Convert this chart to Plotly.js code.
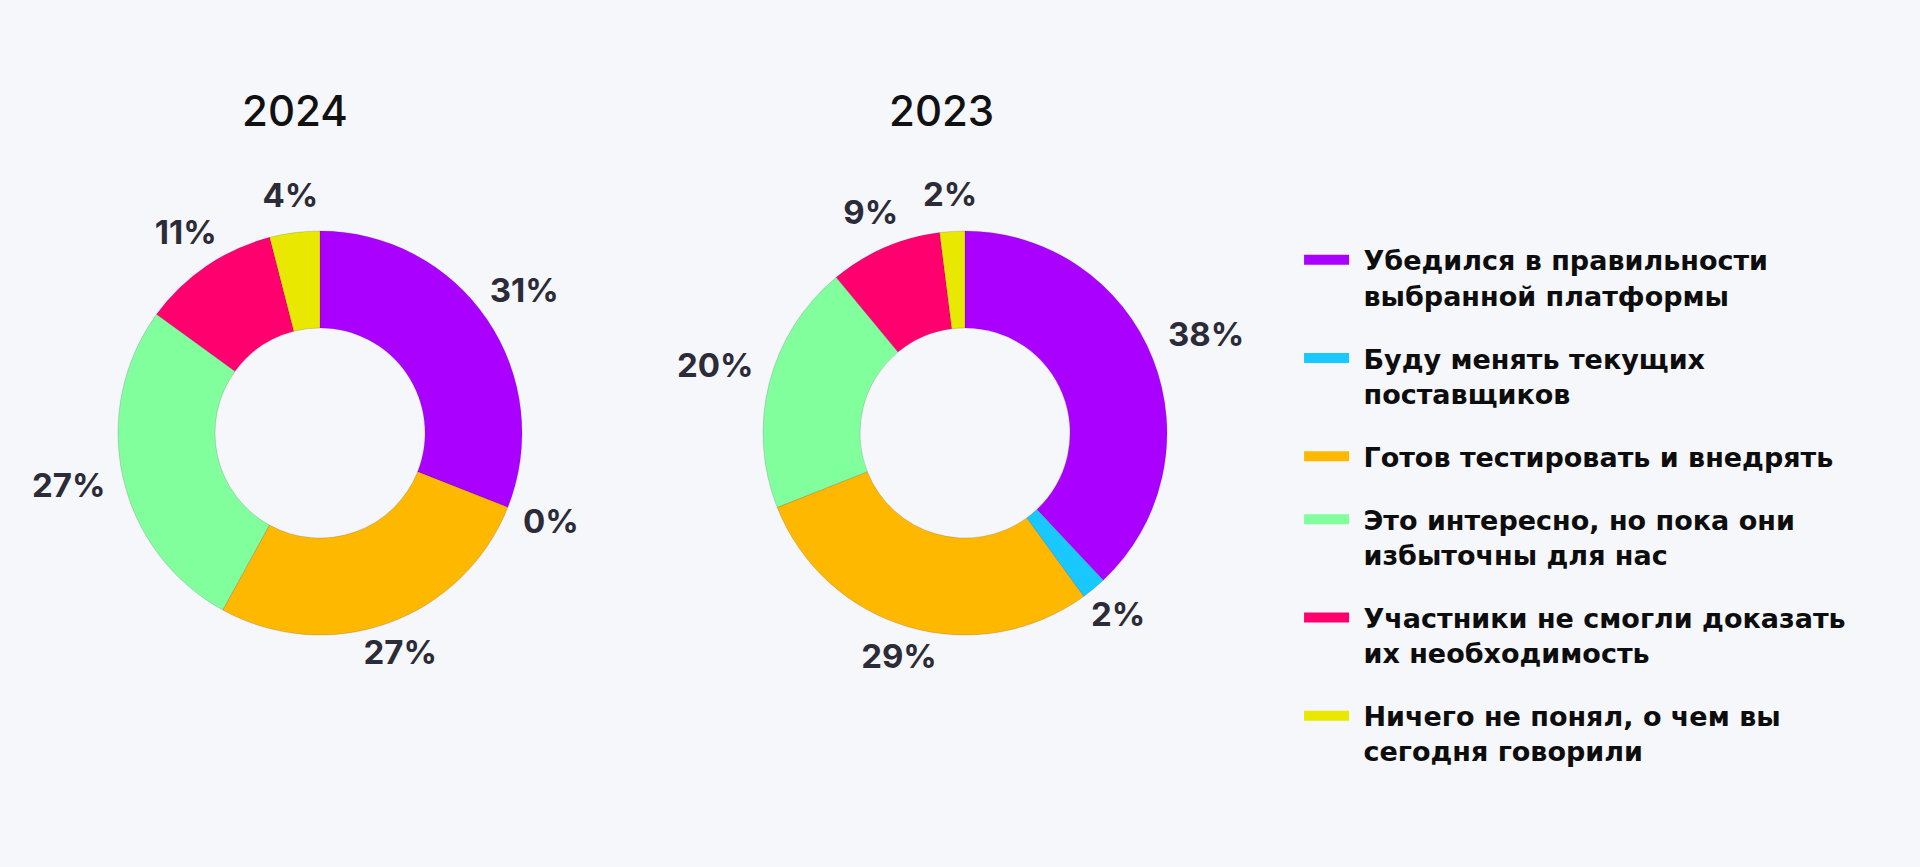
<!DOCTYPE html>
<html>
<head>
<meta charset="utf-8">
<script src="https://cdn.plot.ly/plotly-3.0.1.min.js"></script>
<style>
  html, body { margin: 0; padding: 0; background: #f6f7fb; }
  #chart { width: 1920px; height: 867px; }
</style>
</head>
<body>
<div id="chart"></div>
<script>
// ---- data ----
const categories = [
  'Убедился в правильности<br>выбранной платформы',
  'Буду менять текущих<br>поставщиков',
  'Готов тестировать и внедрять',
  'Это интересно, но пока они<br>избыточны для нас',
  'Участники не смогли доказать<br>их необходимость',
  'Ничего не понял, о чем вы<br>сегодня говорили'
];
const years = ['2024', '2023'];
const values2024 = [31, 0, 27, 27, 11, 4];
const values2023 = [38, 2, 29, 20, 9, 2];
const colors = ['#AA00FF', '#19C8FF', '#FFB800', '#80FF9C', '#FF006E', '#E8E800'];

const FONT = 'Inter, "Noto Sans", "DejaVu Sans", sans-serif';
const LEGEND_FONT = '"DejaVu Sans", Inter, sans-serif';
const labelColor = '#2c2b38';
const LABEL_SIZE = 33;

// geometry (pixels) – one ring per year
const W = 1920, H = 867;
const RING_R = 202;          // outer radius of the donut
const LABEL_GAP = 20;        // gap between ring and label edge
const centers = [[320, 433], [965, 433]];
const POLAR_HALF = 300;      // half-size of the label overlay

function pieDomain(c) {
  return {
    x: [(c[0] - RING_R) / W, (c[0] + RING_R) / W],
    y: [1 - (c[1] + RING_R) / H, 1 - (c[1] - RING_R) / H]
  };
}
function polarDomain(c) {
  return {
    x: [(c[0] - POLAR_HALF) / W, (c[0] + POLAR_HALF) / W],
    y: [1 - (c[1] + POLAR_HALF) / H, 1 - (c[1] - POLAR_HALF) / H]
  };
}

function pieTrace(vals, c) {
  return {
    type: 'pie',
    values: vals,
    labels: categories,
    sort: false,
    direction: 'clockwise',
    rotation: 0,
    hole: 0.52,
    domain: pieDomain(c),
    marker: { colors: colors, line: { color: 'rgba(40,0,60,0.25)', width: 0.6 } },
    textinfo: 'none',
    showlegend: false,
    hoverinfo: 'label+percent'
  };
}

// label placement: anchored at end of each slice's mid-angle ray
function textHalfWidth(s) {
  let w = 0;
  for (const ch of s) w += (ch === '%' ? 0.86 : 0.62) * LABEL_SIZE;
  return w / 2;
}
function labelTrace(vals, subplot) {
  const total = vals.reduce((a, b) => a + b, 0);
  let cum = 0;
  const theta = [], r = [], text = [];
  vals.forEach(v => {
    const ang = (cum + v / 2) / total * 360;
    cum += v;
    const t = v + '%';
    const a = textHalfWidth(t), b = 14;
    const rad = ang * Math.PI / 180;
    const s = Math.abs(Math.sin(rad)), co = Math.abs(Math.cos(rad));
    const ext = Math.min(s > 1e-6 ? a / s : Infinity, co > 1e-6 ? b / co : Infinity);
    theta.push(ang);
    r.push(RING_R + LABEL_GAP + ext);
    text.push(t);
  });
  return {
    type: 'scatterpolar',
    subplot: subplot,
    mode: 'text',
    r: r, theta: theta, text: text,
    textposition: 'middle center',
    textfont: { family: FONT, size: LABEL_SIZE, color: labelColor, weight: 700 },
    cliponaxis: false,
    showlegend: false,
    hoverinfo: 'skip'
  };
}

const traces = [
  pieTrace(values2024, centers[0]),
  pieTrace(values2023, centers[1]),
  labelTrace(values2024, 'polar'),
  labelTrace(values2023, 'polar2')
];

// legend entries (line swatches); a leading no-break space widens the swatch-text gap
categories.forEach((c, i) => {
  traces.push({
    type: 'scatter',
    mode: 'lines',
    x: [null], y: [null],
    name: '\u00a0' + c.replace(/<br>/g, '<br>\u00a0'),
    legendgroup: 'g' + i,
    line: { color: colors[i], width: 10 },
    showlegend: true,
    hoverinfo: 'skip'
  });
});

function polarLayout(c) {
  return {
    domain: polarDomain(c),
    bgcolor: 'rgba(0,0,0,0)',
    radialaxis: { visible: false, range: [0, POLAR_HALF] },
    angularaxis: { visible: false, rotation: 90, direction: 'clockwise' }
  };
}

const layout = {
  width: W,
  height: H,
  margin: { l: 0, r: 0, t: 0, b: 0 },
  paper_bgcolor: '#f6f7fb',
  plot_bgcolor: 'rgba(0,0,0,0)',
  xaxis: { visible: false, domain: [0.99, 1] },
  yaxis: { visible: false, domain: [0.99, 1] },
  polar: polarLayout(centers[0]),
  polar2: polarLayout(centers[1]),
  showlegend: true,
  legend: {
    x: 0.6766, xanchor: 'left',
    y: 0.728, yanchor: 'top',
    bgcolor: 'rgba(0,0,0,0)',
    font: { family: LEGEND_FONT, size: 27, color: '#0d0d0d', weight: 700 },
    valign: 'top',
    itemwidth: 45,
    tracegroupgap: 25,
    itemclick: false, itemdoubleclick: false
  },
  annotations: [
    { text: years[0], x: 295 / W, y: 1 - 110 / H, xref: 'paper', yref: 'paper',
      xanchor: 'center', yanchor: 'middle', showarrow: false,
      font: { family: FONT, size: 42, color: '#111111', weight: 500 } },
    { text: years[1], x: 941 / W, y: 1 - 110 / H, xref: 'paper', yref: 'paper',
      xanchor: 'center', yanchor: 'middle', showarrow: false,
      font: { family: FONT, size: 42, color: '#111111', weight: 500 } }
  ]
};

Plotly.newPlot('chart', traces, layout, { displayModeBar: false, responsive: false });
</script>
</body>
</html>
